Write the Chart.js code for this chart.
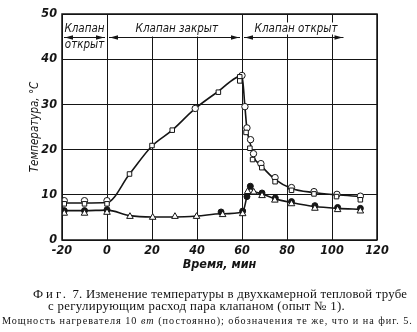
<!DOCTYPE html>
<html lang="ru">
<head>
<meta charset="utf-8">
<title>Фиг. 7</title>
<script src="https://cdn.jsdelivr.net/npm/chart.js@4.4.1/dist/chart.umd.min.js"></script>
<style>
  html, body { margin: 0; padding: 0; background: #fff; }
  #wrap { position: relative; width: 417px; height: 332px; overflow: hidden; }
  #chart { position: absolute; left: 0; top: 0; }
  .cap { position: absolute; white-space: nowrap; color: #111; font-family: 'Liberation Serif', 'DejaVu Serif', serif; }
  #cap1 { left: 33px; top: 287px; font-size: 12.8px; }
  #cap2 { left: 48px; top: 299px; font-size: 12.8px; }
  #cap3 { left: 2px; top: 315px; font-size: 10.2px; }
  .sp { letter-spacing: 3px; }
</style>
</head>
<body>
<div id="wrap">
  <canvas id="chart" width="417" height="332"></canvas>
  <div class="cap" id="cap1" data-w="375"><span class="sp">Фиг.</span> 7. Изменение температуры в двухкамерной тепловой трубе</div>
  <div class="cap" id="cap2" data-w="297">с регулирующим расход пара клапаном (опыт № 1).</div>
  <div class="cap" id="cap3" data-w="411">Мощность нагревателя 10 <i>вт</i> (постоянно); обозначения те же, что и на фиг. 5.</div>
</div>
<script>
// ===== DATA =====
// time, min / temperature, °C
const squareX = [-19, -10, 0, 10, 20, 29, 49.5, 59, 59, 61.8, 63.5, 64.7, 68.8, 74.7, 82, 92, 102, 112.6];
const squareY = [8.0, 8.0, 8.0, 14.6, 20.9, 24.3, 32.7, 36.1, 35.2, 23.8, 20.3, 17.8, 16.0, 12.9, 11.0, 10.2, 9.6, 8.9];

const circleX = [-19, -10, 0, 39.2, 60, 61.3, 62.2, 63.8, 65.1, 68.4, 74.7, 82, 92, 102.2, 112.6];
const circleY = [8.7, 8.7, 8.7, 29.1, 36.4, 29.5, 24.8, 22.2, 19.1, 16.9, 13.8, 11.6, 10.7, 10.1, 9.7];

const dotX = [-19, -10, 0, 50.7, 60.3, 62.2, 63.7, 68.9, 74.8, 82, 92.4, 102.5, 112.6];
const dotY = [6.5, 6.5, 6.7, 6.2, 6.4, 9.6, 11.9, 10.4, 9.3, 8.5, 7.6, 7.2, 7.0];

const triX = [-19, -10, 0, 10.2, 20.3, 30.2, 39.8, 51.4, 60.3, 62.5, 65.2, 68.9, 74.6, 82, 92.4, 102.5, 112.6];
const triY = [5.9, 5.9, 6.1, 5.2, 5.0, 5.2, 5.2, 5.6, 5.8, 10.7, 10.6, 9.8, 8.8, 8.0, 7.0, 6.7, 6.4];

// drawn curves
const upperX = [-19, -10, 0, 10, 20, 29, 39, 49, 60, 61.3, 62.2, 63.6, 65, 68.6, 74.7, 82, 92, 102, 112.6];
const upperY = [8.2, 8.2, 8.3, 14.6, 20.8, 24.3, 29.0, 32.7, 36.3, 29.5, 24.5, 21.5, 18.6, 16.4, 13.4, 11.4, 10.5, 10.0, 9.6];

const lowerX = [-19, -10, 0, 10, 20, 30, 40, 50.7, 60.3, 62.2, 63.7, 65.2, 68.9, 74.8, 82, 92.4, 102.5, 112.6];
const lowerY = [6.5, 6.5, 6.6, 5.4, 5.1, 5.1, 5.3, 5.8, 6.2, 9.6, 11.6, 10.8, 10.2, 9.1, 8.3, 7.4, 7.0, 6.8];

// valve states along the time axis
const valveFrom = [-20, 0, 60];
const valveTo = [0, 60, 106];
const valveText = [['Клапан', 'открыт'], ['Клапан закрыт'], ['Клапан открыт']];
const valveLevel = 45;

const xTicks = [-20, 0, 20, 40, 60, 80, 100, 120];
const yTicks = [0, 10, 20, 30, 40, 50];

const ink = '#151515';
const narrow = "'Liberation Sans Narrow', 'DejaVu Sans Condensed', sans-serif";
const tickFont = { family: narrow, size: 12.5, style: 'italic', weight: 'bold' };

const toPts = (xs, ys) => xs.map((x, i) => ({ x: x, y: ys[i] }));

// stretch caption lines to their column width
document.querySelectorAll('.cap').forEach(el => {
    const target = +el.dataset.w;
    const chars = el.textContent.length;
    const extra = (target - el.getBoundingClientRect().width) / chars;
    el.style.letterSpacing = extra.toFixed(2) + 'px';
});

function arrowHead(ctx, x, y, dir) {
    ctx.beginPath();
    ctx.moveTo(x, y);
    ctx.lineTo(x - dir * 8, y - 2.2);
    ctx.lineTo(x - dir * 8, y + 2.2);
    ctx.closePath();
    ctx.fill();
}

// frame + valve state labels
const framePlugin = {
    id: 'frame',
    afterDatasetsDraw(chart) {
        const { ctx, chartArea: a, scales: { x, y } } = chart;
        ctx.save();
        ctx.strokeStyle = ink;
        ctx.fillStyle = ink;

        const ly = Math.round(y.getPixelForValue(valveLevel)) + 0.5;
        ctx.font = "italic 11.5px " + narrow;
        ctx.textAlign = 'center';
        ctx.textBaseline = 'middle';

        valveFrom.forEach((v, i) => {
            const x0 = x.getPixelForValue(v);
            const x1 = x.getPixelForValue(valveTo[i]);
            const lines = valveText[i];
            if (lines.length === 2) {
                const cx = (x0 + x1) / 2;
                ctx.fillText(lines[0], cx, ly - 8);
                ctx.fillText(lines[1], cx, ly + 8);
            } else {
                const tw = ctx.measureText(lines[0]).width;
                const cx = i === 1 ? x.getPixelForValue(31) : x.getPixelForValue(84);
                ctx.fillStyle = '#fff';
                if (i === 1) ctx.fillRect(cx - tw / 2 - 3, a.top + 1, tw + 6, ly - a.top - 2);
                else ctx.fillRect(cx - tw / 2 - 2, ly - 15, tw + 4, 12);
                ctx.fillStyle = ink;
                ctx.fillText(lines[0], cx, ly - 8);
            }
            ctx.lineWidth = 1;
            ctx.beginPath();
            ctx.moveTo(x0 + 2, ly);
            ctx.lineTo(x1 - 2, ly);
            ctx.stroke();
            arrowHead(ctx, x0 + 3, ly, -1);
            arrowHead(ctx, x1 - 3, ly, 1);
        });

        ctx.lineWidth = 1.5;
        ctx.strokeRect(a.left, a.top, a.right - a.left, a.bottom - a.top);
        ctx.restore();
    }
};

const markerBase = { showLine: false, borderColor: ink, borderWidth: 1, order: 1 };
const curveBase = {
    showLine: true, pointRadius: 0, borderColor: ink, borderWidth: 1.6,
    cubicInterpolationMode: 'monotone', order: 5
};

new Chart(document.getElementById('chart'), {
    type: 'scatter',
    data: {
        datasets: [
            Object.assign({ data: toPts(upperX, upperY) }, curveBase),
            Object.assign({ data: toPts(lowerX, lowerY) }, curveBase),
            Object.assign({ data: toPts(squareX, squareY), pointStyle: 'rect', pointRadius: 3.2, backgroundColor: '#fff' }, markerBase),
            Object.assign({ data: toPts(circleX, circleY), pointStyle: 'circle', pointRadius: 3.2, backgroundColor: '#fff' }, markerBase),
            Object.assign({ data: toPts(triX, triY), pointStyle: 'triangle', pointRadius: 3.8, backgroundColor: '#fff' }, markerBase),
            Object.assign({ data: toPts(dotX, dotY), pointStyle: 'circle', pointRadius: 3, backgroundColor: ink }, markerBase)
        ]
    },
    options: {
        responsive: false,
        animation: false,
        layout: { padding: { left: 0, right: 40, top: 14, bottom: 56 } },
        plugins: { legend: { display: false }, tooltip: { enabled: false } },
        scales: {
            x: {
                type: 'linear', min: -20, max: 120,
                afterFit: s => { s.height = 36; },
                afterBuildTicks: s => { s.ticks = xTicks.map(v => ({ value: v })); },
                grid: { color: ink, lineWidth: 1, drawTicks: false },
                border: { display: false },
                ticks: { color: ink, font: tickFont, padding: 3, maxRotation: 0 },
                title: {
                    display: true, text: 'Время, мин', color: ink,
                    font: { family: narrow, size: 12.5, style: 'italic', weight: 'bold' },
                    padding: { top: 0, bottom: 4 }
                }
            },
            y: {
                type: 'linear', min: 0, max: 50,
                afterFit: s => { s.width = 62; },
                afterBuildTicks: s => { s.ticks = yTicks.map(v => ({ value: v })); },
                grid: { color: ink, lineWidth: 1, drawTicks: false },
                border: { display: false },
                ticks: { color: ink, font: tickFont, padding: 5 },
                title: {
                    display: true, text: 'Температура, °С', color: ink,
                    font: { family: narrow, size: 11.5, style: 'italic' },
                    padding: { top: 28, bottom: 0 }
                }
            }
        }
    },
    plugins: [framePlugin]
});
</script>
</body>
</html>
